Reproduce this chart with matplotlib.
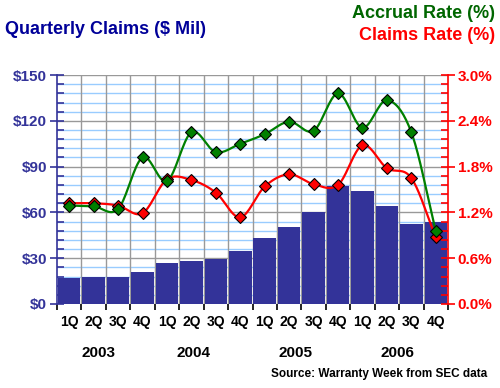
import numpy as np
import matplotlib
matplotlib.use("Agg")
import matplotlib.pyplot as plt
from matplotlib.ticker import MultipleLocator, FixedLocator, NullFormatter

quarters = ["1Q", "2Q", "3Q", "4Q"] * 4
years = ["2003", "2004", "2005", "2006"]
claims = [17, 18, 18, 21, 27, 28, 29.5, 35, 43, 50.5, 60, 77, 74, 64, 52.5, 54]
accrual_rate = [1.29, 1.28, 1.245, 1.92, 1.61, 2.25, 1.99, 2.10,
                2.225, 2.39, 2.27, 2.76, 2.31, 2.67, 2.25, 0.956]
claims_rate = [1.32, 1.32, 1.29, 1.19, 1.635, 1.625, 1.46, 1.136,
               1.54, 1.70, 1.57, 1.56, 2.08, 1.78, 1.65, 0.874]

plt.rcParams['font.family'] = ['Liberation Sans', 'DejaVu Sans']
plt.rcParams['font.weight'] = 'bold'

fig = plt.figure(figsize=(5.0, 3.88), dpi=100)
ax = fig.add_axes([0.114, 0.2165, 0.782, 0.590])
ax2 = ax.twinx()

n = len(claims)
x = np.arange(n)

# grid
for v in np.arange(0, 150.1, 6):
    if v % 30 == 0:
        ax.axhline(v, color="#999999", lw=1.0, zorder=1)
    else:
        ax.axhline(v, color="#99ccff", lw=1.0, zorder=0.9)
for b in np.arange(0.5, n - 0.5, 1):
    ax.axvline(b, color="#999999", lw=1.0, zorder=1)

ax.bar(x, claims, width=0.92, color="#333399", edgecolor="none", zorder=2)
ax.set_xlim(-0.5, n - 0.5)
ax.set_ylim(0, 150)
ax2.set_ylim(0, 3.0)


def catmull(xs, ys, steps=20):
    px = np.concatenate([[2 * xs[0] - xs[1]], xs, [2 * xs[-1] - xs[-2]]])
    py = np.concatenate([[2 * ys[0] - ys[1]], ys, [2 * ys[-1] - ys[-2]]])
    outx, outy = [], []
    t = np.linspace(0, 1, steps)
    for i in range(1, len(px) - 2):
        for P, out in ((px, outx), (py, outy)):
            p0, p1, p2, p3 = P[i - 1], P[i], P[i + 1], P[i + 2]
            out.extend(0.5 * ((2 * p1) + (-p0 + p2) * t
                              + (2 * p0 - 5 * p1 + 4 * p2 - p3) * t ** 2
                              + (-p0 + 3 * p1 - 3 * p2 + p3) * t ** 3))
    return np.array(outx), np.array(outy)


for series, col in ((claims_rate, "#ff0000"), (accrual_rate, "#008000")):
    sx, sy = catmull(x.astype(float), np.array(series, dtype=float))
    ax2.plot(sx, sy, color=col, lw=1.6, zorder=3)
    ax2.plot(x, series, ls="none", marker="D", ms=6.5, mfc=col, mec="black",
             mew=0.8, zorder=4)

# spines
for a in (ax, ax2):
    a.spines["top"].set_visible(False)
    a.spines["bottom"].set_visible(False)
ax.spines["right"].set_visible(False)
ax2.spines["left"].set_visible(False)
ax.spines["left"].set_color("#333399")
ax.spines["left"].set_linewidth(1.2)
ax2.spines["right"].set_color("#ff0000")
ax2.spines["right"].set_linewidth(1.2)

# left axis ticks
ax.yaxis.set_major_locator(MultipleLocator(30))
ax.yaxis.set_minor_locator(MultipleLocator(6))
ax.set_yticklabels([f"${int(v)}" for v in ax.get_yticks()])
ax.tick_params(axis="y", which="major", direction="inout", length=10, width=1.2,
               color="#333399", labelcolor="#333399", labelsize=11, pad=2)
ax.tick_params(axis="y", which="minor", direction="in", length=5, width=1.2,
               color="#333399")

# right axis ticks
ax2.yaxis.set_major_locator(MultipleLocator(0.6))
ax2.yaxis.set_minor_locator(MultipleLocator(0.12))
ax2.set_yticklabels([f"{v:.1f}%" for v in ax2.get_yticks()])
ax2.tick_params(axis="y", which="major", direction="inout", length=10, width=1.2,
                color="#ff0000", labelcolor="#ff0000", labelsize=11, pad=2)
ax2.tick_params(axis="y", which="minor", direction="in", length=5, width=1.2,
                color="#ff0000")

# x ticks
ax.xaxis.set_major_locator(FixedLocator(x))
ax.set_xticklabels(quarters)
ax.xaxis.set_minor_locator(FixedLocator(np.arange(-0.5, n, 1)))
ax.tick_params(axis="x", which="major", length=0, labelsize=10, pad=8)
ax.tick_params(axis="x", which="minor", direction="out", length=4, width=1.2,
               color="black")
ax2.tick_params(axis="x", which="both", length=0)

year_pos = [1.18, 5.1, 9.28, 13.45]
for yp, yr in zip(year_pos, years):
    ax.text(yp, -0.215, yr, transform=ax.get_xaxis_transform(), ha="center",
            va="center", fontsize=11, fontweight="bold", color="black")

fig.text(0.01, 1 - 29 / 388, "Quarterly Claims ($ Mil)", color="#000099",
         fontsize=13, fontweight="bold", ha="left", va="center")
fig.text(0.99, 1 - 14 / 388, "Accrual Rate (%)", color="#006600",
         fontsize=13, fontweight="bold", ha="right", va="center")
fig.text(0.99, 1 - 36 / 388, "Claims Rate (%)", color="#ff0000",
         fontsize=13, fontweight="bold", ha="right", va="center")
fig.text(0.974, 1 - 374 / 388, "Source: Warranty Week from SEC data",
         color="black", fontsize=8.5, fontweight="bold", ha="right", va="center")

fig.savefig("out.png", dpi=100)
